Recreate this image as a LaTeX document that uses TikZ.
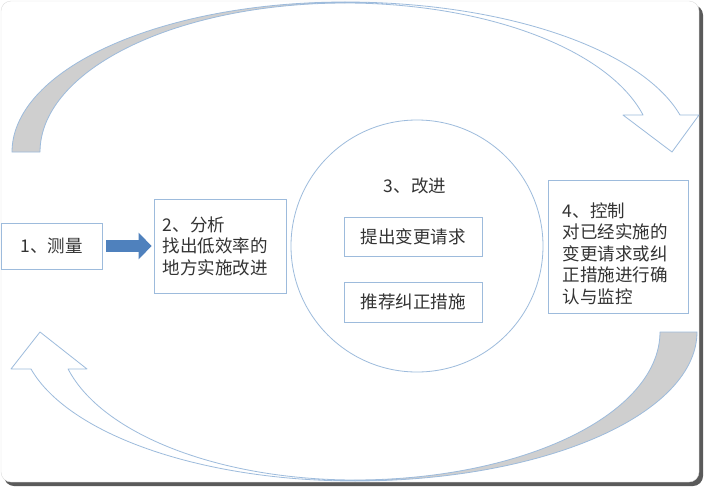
\documentclass[tikz,border=0pt]{standalone}
\usepackage{fontspec}
\setmainfont{Noto Sans CJK SC}
\usetikzlibrary{arrows.meta}
\definecolor{edge}{HTML}{9DBBDC}
\definecolor{txtc}{HTML}{333333}
\definecolor{arrowblue}{HTML}{4F81BD}
\definecolor{bandgray}{HTML}{CFCFCF}
\definecolor{framegray}{HTML}{DDDDDD}
\definecolor{shadowgray}{HTML}{5A5A5A}
\begin{document}
\begin{tikzpicture}[x=1pt,y=-1pt,
  box/.style={draw=edge, line width=0.8pt, fill=white, inner sep=0pt},
  txt/.style={text=txtc, font=\fontsize{17.5}{21.5}\selectfont, align=left, inner sep=0pt},
  band/.style={draw=edge, line width=0.8pt, line join=round}]
\useasboundingbox (0,0) rectangle (705,488);
% frame with shadow
\fill[shadowgray, rounded corners=10pt] (4,5) rectangle (703,486);
\filldraw[fill=white, draw=framegray, rounded corners=10pt] (1,1) rectangle (699,482);

% top curved arrow: shaded back part
\filldraw[band, fill=bandgray]
  plot[domain=180:90, samples=60] ({345+333*cos(\x)},{152-150*sin(\x)})
  -- plot[domain=90:180, samples=60] ({345+305*cos(\x)},{152-149*sin(\x)}) -- cycle;
% top curved arrow: front part with head
\filldraw[band, fill=white]
  plot[domain=90:14.28, samples=60] ({345+345.7*cos(\x)},{152-150*sin(\x)})
  -- (699,115) -- (672,152) -- (623,115) -- (643,115)
  -- plot[domain=14.38:90, samples=60] ({345+307.7*cos(\x)},{152-149*sin(\x)}) -- cycle;

% bottom curved arrow: shaded back part
\filldraw[band, fill=bandgray]
  plot[domain=0:90, samples=60] ({355+342*cos(\x)},{332+149*sin(\x)})
  -- plot[domain=90:0, samples=60] ({355+305*cos(\x)},{332+148*sin(\x)}) -- cycle;
% bottom curved arrow: front part with head
\filldraw[band, fill=white]
  plot[domain=90:14.38, samples=60] ({355-334.5*cos(\x)},{332+149*sin(\x)})
  -- (11,369) -- (40,332) -- (87,369) -- (68,369)
  -- plot[domain=14.48:90, samples=60] ({355-296.3*cos(\x)},{332+148*sin(\x)}) -- cycle;

% step 1
\node[box, minimum width=101pt, minimum height=46pt] (b1) at (51.5,246) {};
\node[txt] (t1) at (b1) {1、测量};
% step 2
\node[box, minimum width=132pt, minimum height=94pt] (b2) at (220,246) {};
\node[txt, anchor=west] (t2) at ([xshift=9pt]b2.west) {2、分析\\找出低效率的\\地方实施改进};
% connector 1 -> 2
\draw[arrowblue, line width=12pt, -{Triangle[width=26pt,length=13pt]}, shorten <=4pt, shorten >=2pt] (b1.east) -- (b2.west);
% step 3
\node[draw=edge, line width=0.8pt, circle, minimum size=252pt, inner sep=0pt] (c3) at (417,246) {};
\node[txt] (t3) at (415,186) {3、改进};
\node[box, txt, minimum width=138pt, minimum height=39pt] (b3a) at (413,236.5) {提出变更请求};
\node[box, txt, minimum width=138pt, minimum height=40pt] (b3b) at (413,302) {推荐纠正措施};
% step 4
\node[box, minimum width=140pt, minimum height=133pt] (b4) at (618,246.5) {};
\node[txt, anchor=west] (t4) at ([xshift=15pt, yshift=-7pt]b4.west) {4、控制\\对已经实施的\\变更请求或纠\\正措施进行确\\认与监控};
\end{tikzpicture}
\end{document}
